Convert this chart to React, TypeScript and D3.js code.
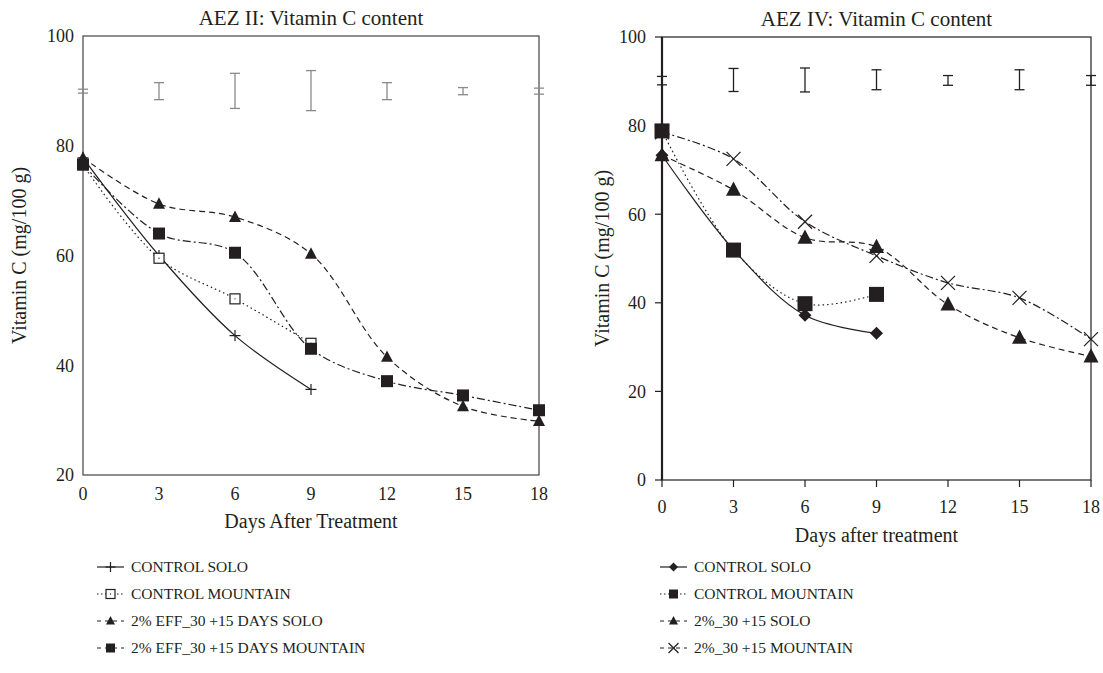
import React from "react";
import * as d3 from "d3";

// ---------- data ----------
const days = [0, 3, 6, 9, 12, 15, 18];

// AEZ II
const aez2ControlSolo = [77.8, 60.0, 45.4, 35.6];
const aez2ControlMountain = [76.5, 59.5, 52.1, 44.0];
const aez2EffSolo = [77.8, 69.4, 67.0, 60.3, 41.5, 32.5, 29.8];
const aez2EffMountain = [76.6, 64.0, 60.5, 43.0, 37.1, 34.5, 31.8];
const aez2ErrLow = [89.6, 88.4, 86.8, 86.4, 88.4, 89.3, 89.4];
const aez2ErrHigh = [90.3, 91.5, 93.2, 93.7, 91.5, 90.6, 90.5];

// AEZ IV
const aez4ControlSolo = [73.3, 52.0, 37.2, 33.1];
const aez4ControlMountain = [78.8, 51.9, 39.8, 41.9];
const aez4Solo = [73.3, 65.5, 54.7, 52.6, 39.6, 32.1, 27.9];
const aez4Mountain = [78.5, 72.5, 58.3, 50.6, 44.5, 41.1, 31.8];
const aez4ErrLow = [89.2, 87.7, 87.6, 88.1, 89.1, 88.1, 89.1];
const aez4ErrHigh = [91.1, 92.9, 93.0, 92.6, 91.3, 92.6, 91.3];

const xTicks = [0, 3, 6, 9, 12, 15, 18];
const yTicksLeft = [20, 40, 60, 80, 100];
const yTicksRight = [0, 20, 40, 60, 80, 100];

const legendLeft = [
  "CONTROL SOLO",
  "CONTROL MOUNTAIN",
  "2% EFF_30 +15 DAYS SOLO",
  "2% EFF_30 +15 DAYS MOUNTAIN",
];
const legendRight = [
  "CONTROL SOLO",
  "CONTROL MOUNTAIN",
  "2%_30 +15 SOLO",
  "2%_30 +15 MOUNTAIN",
];

const INK = "#231f20";
const FS_TICK = 18;
const FS_LABEL = 20;
const FS_TITLE = 21;
const FS_LEGEND = 15.5;

type Marker = "plus" | "openSquare" | "square" | "triangle" | "diamond" | "cross";

function MarkerShape({ type, x, y, s }: { type: Marker; x: number; y: number; s: number }) {
  const h = s / 2;
  switch (type) {
    case "plus":
      return (
        <g stroke={INK} strokeWidth={1.2}>
          <line x1={x - h} x2={x + h} y1={y} y2={y} />
          <line x1={x} x2={x} y1={y - h} y2={y + h} />
        </g>
      );
    case "cross":
      return (
        <g stroke={INK} strokeWidth={1.2}>
          <line x1={x - h} x2={x + h} y1={y - h} y2={y + h} />
          <line x1={x - h} x2={x + h} y1={y + h} y2={y - h} />
        </g>
      );
    case "openSquare":
      return (
        <g>
          <rect x={x - h} y={y - h} width={s} height={s} fill="#fff" stroke={INK} strokeWidth={1.2} />
          <circle cx={x} cy={y} r={0.7} fill={INK} />
        </g>
      );
    case "square":
      return <rect x={x - h} y={y - h} width={s} height={s} fill={INK} />;
    case "triangle":
      return (
        <path
          d={`M${x},${y - h * 1.1}L${x + h},${y + h * 0.8}L${x - h},${y + h * 0.8}Z`}
          fill={INK}
        />
      );
    case "diamond":
      return <path d={`M${x},${y - h}L${x + h},${y}L${x},${y + h}L${x - h},${y}Z`} fill={INK} />;
  }
}

type Series = { values: number[]; marker: Marker; dash: string | undefined; size: number };

function Panel(props: {
  left: number;
  right: number;
  top: number;
  bottom: number;
  yMin: number;
  yTicks: number[];
  title: string;
  xLabel: string;
  series: Series[];
  errLow: number[];
  errHigh: number[];
  errColor: string;
  outerTicks: boolean;
  boldLeft: boolean;
  titleY: number;
  xLabelY: number;
  xTickY: number;
  yLabelX: number;
}) {
  const x = d3.scaleLinear().domain([0, 18]).range([props.left, props.right]);
  const y = d3.scaleLinear().domain([props.yMin, 100]).range([props.bottom, props.top]);
  const line = d3
    .line<[number, number]>()
    .x((d) => x(d[0]))
    .y((d) => y(d[1]))
    .curve(d3.curveCatmullRom.alpha(0.5));
  const cx = (props.left + props.right) / 2;
  const cy = (props.top + props.bottom) / 2;
  const tk = props.outerTicks ? 7 : 0;
  return (
    <g>
      <text x={cx} y={props.titleY} textAnchor="middle" fontSize={FS_TITLE} fill={INK}>
        {props.title}
      </text>
      {/* frame */}
      <rect
        x={props.left}
        y={props.top}
        width={props.right - props.left}
        height={props.bottom - props.top}
        fill="none"
        stroke={props.boldLeft ? INK : "#444"}
        strokeWidth={1.2}
      />
      {props.boldLeft && (
        <line x1={props.left} x2={props.left} y1={props.top} y2={props.bottom} stroke={INK} strokeWidth={2.2} />
      )}
      {/* y ticks */}
      {props.yTicks.map((t) => (
        <g key={"y" + t}>
          {tk > 0 && (
            <line x1={props.left - tk} x2={props.left} y1={y(t)} y2={y(t)} stroke={INK} strokeWidth={1.2} />
          )}
          <text x={props.left - tk - 9} y={y(t)} dy="0.35em" textAnchor="end" fontSize={FS_TICK} fill={INK}>
            {t}
          </text>
        </g>
      ))}
      {/* x ticks */}
      {xTicks.map((t) => (
        <g key={"x" + t}>
          {tk > 0 && (
            <line x1={x(t)} x2={x(t)} y1={props.bottom} y2={props.bottom + tk} stroke={INK} strokeWidth={1.2} />
          )}
          <text x={x(t)} y={props.xTickY} dy="0.35em" textAnchor="middle" fontSize={FS_TICK} fill={INK}>
            {t}
          </text>
        </g>
      ))}
      <text x={cx} y={props.xLabelY} textAnchor="middle" fontSize={FS_LABEL} fill={INK}>
        {props.xLabel}
      </text>
      <text
        transform={`translate(${props.yLabelX},${cy}) rotate(-90)`}
        textAnchor="middle"
        fontSize={FS_LABEL}
        fill={INK}
      >
        Vitamin C (mg/100 g)
      </text>
      {/* error bars */}
      {days.map((d, i) => (
        <g key={"e" + d} stroke={props.errColor} strokeWidth={1.3}>
          <line x1={x(d)} x2={x(d)} y1={y(props.errLow[i])} y2={y(props.errHigh[i])} />
          <line x1={x(d) - 5} x2={x(d) + 5} y1={y(props.errLow[i])} y2={y(props.errLow[i])} />
          <line x1={x(d) - 5} x2={x(d) + 5} y1={y(props.errHigh[i])} y2={y(props.errHigh[i])} />
        </g>
      ))}
      {/* lines */}
      {props.series.map((s, si) => {
        const pts = s.values.map((v, i) => [days[i], v] as [number, number]);
        return (
          <path
            key={"l" + si}
            d={line(pts) || ""}
            fill="none"
            stroke={INK}
            strokeWidth={1.2}
            strokeDasharray={s.dash}
          />
        );
      })}
      {/* markers */}
      {props.series.map((s, si) => (
        <g key={"m" + si}>
          {s.values.map((v, i) => (
            <MarkerShape key={i} type={s.marker} x={x(days[i])} y={y(v)} s={s.size} />
          ))}
        </g>
      ))}
    </g>
  );
}

function Legend({ x0, y0, labels, series }: { x0: number; y0: number; labels: string[]; series: Series[] }) {
  return (
    <g>
      {labels.map((lab, i) => {
        const yy = y0 + i * 27;
        const s = series[i];
        return (
          <g key={lab}>
            <line
              x1={x0}
              x2={x0 + 27}
              y1={yy}
              y2={yy}
              stroke={INK}
              strokeWidth={1.2}
              strokeDasharray={s.dash ? (s.dash === "1.5,3" ? "1.5,2.5" : "4,4") : undefined}
            />
            <MarkerShape
              type={s.marker}
              x={x0 + 13.5}
              y={yy}
              s={s.marker === "plus" || s.marker === "cross" ? 10 : 9}
            />
            <text x={x0 + 34} y={yy} dy="0.35em" fontSize={FS_LEGEND} fill={INK}>
              {lab}
            </text>
          </g>
        );
      })}
    </g>
  );
}

export default function App() {
  const leftSeries: Series[] = [
    { values: aez2ControlSolo, marker: "plus", dash: undefined, size: 11 },
    { values: aez2ControlMountain, marker: "openSquare", dash: "1.5,3", size: 10 },
    { values: aez2EffSolo, marker: "triangle", dash: "6,4", size: 12 },
    { values: aez2EffMountain, marker: "square", dash: "8,3,2,3", size: 12 },
  ];
  const rightSeries: Series[] = [
    { values: aez4ControlSolo, marker: "diamond", dash: undefined, size: 13 },
    { values: aez4ControlMountain, marker: "square", dash: "1.5,3", size: 15 },
    { values: aez4Solo, marker: "triangle", dash: "6,4", size: 15 },
    { values: aez4Mountain, marker: "cross", dash: "8,3,2,3", size: 14 },
  ];
  return (
    <svg
      width={1103}
      height={673}
      style={{ position: "absolute", left: 0, top: 0, background: "#fff", fontFamily: "'Liberation Serif', 'Times New Roman', serif" }}
    >
      <rect width={1103} height={673} fill="#fff" />
      <Panel
        left={83}
        right={539}
        top={36}
        bottom={475}
        yMin={20}
        yTicks={yTicksLeft}
        title="AEZ II: Vitamin C content"
        xLabel="Days After Treatment"
        series={leftSeries}
        errLow={aez2ErrLow}
        errHigh={aez2ErrHigh}
        errColor="#8a8a8a"
        outerTicks={false}
        boldLeft={false}
        titleY={25}
        xLabelY={528}
        xTickY={494}
        yLabelX={26}
      />
      <Panel
        left={662}
        right={1091}
        top={37}
        bottom={480}
        yMin={0}
        yTicks={yTicksRight}
        title="AEZ IV: Vitamin C content"
        xLabel="Days after treatment"
        series={rightSeries}
        errLow={aez4ErrLow}
        errHigh={aez4ErrHigh}
        errColor={INK}
        outerTicks={true}
        boldLeft={true}
        titleY={26}
        xLabelY={542}
        xTickY={507}
        yLabelX={609}
      />
      <Legend x0={97} y0={567} labels={legendLeft} series={leftSeries} />
      <Legend x0={660} y0={567} labels={legendRight} series={rightSeries} />
    </svg>
  );
}
